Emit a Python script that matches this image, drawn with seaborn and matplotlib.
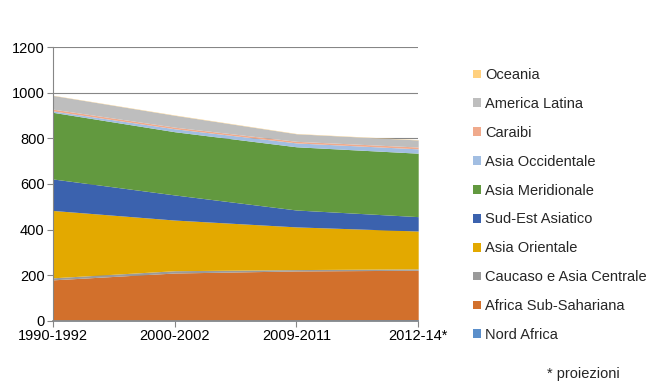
import matplotlib
matplotlib.use("Agg")
import pandas as pd
import matplotlib.pyplot as plt
import seaborn as sns
from matplotlib.patches import Patch

periods = ["1990-1992", "2000-2002", "2009-2011", "2012-14*"]
regions = ["Nord Africa", "Africa Sub-Sahariana", "Caucaso e Asia Centrale",
           "Asia Orientale", "Sud-Est Asiatico", "Asia Meridionale",
           "Asia Occidentale", "Caraibi", "America Latina", "Oceania"]

nord_africa = [4, 4, 5, 6]
africa_sub = [176, 206, 214, 216]
caucaso = [9, 10, 6, 6]
asia_orientale = [295, 222, 187, 166]
sud_est = [138, 110, 74, 63]
asia_meridionale = [292, 277, 277, 278]
asia_occidentale = [6, 13, 17, 19]
caraibi = [8, 7, 7, 8]
america_latina = [60, 52, 33, 31]
oceania = [1, 1.5, 1.3, 1.3]

colors = ["#5B8FCB", "#D2702C", "#9A9A9A", "#E3A900", "#3B62AE",
          "#62993F", "#A2BEE2", "#F0AA8C", "#BEBEBE", "#FFD07E"]

df = pd.DataFrame({
    "Nord Africa": nord_africa,
    "Africa Sub-Sahariana": africa_sub,
    "Caucaso e Asia Centrale": caucaso,
    "Asia Orientale": asia_orientale,
    "Sud-Est Asiatico": sud_est,
    "Asia Meridionale": asia_meridionale,
    "Asia Occidentale": asia_occidentale,
    "Caraibi": caraibi,
    "America Latina": america_latina,
    "Oceania": oceania,
}, index=periods)

sns.set_theme(style="white")
plt.rcParams['font.family'] = ['Liberation Sans', 'DejaVu Sans']

fig = plt.figure(figsize=(6.51, 3.89), dpi=100)
ax = fig.add_axes([0.0814, 0.175, 0.561, 0.704])

x = list(range(len(periods)))
ax.stackplot(x, [df[r].values for r in regions], colors=colors, linewidth=0)

ax.set_xlim(0, len(periods) - 1)
ax.set_ylim(0, 1200)
ax.set_yticks(range(0, 1201, 200))
ax.set_xticks(x)
ax.set_xticklabels(periods)
ax.tick_params(axis="both", labelsize=10.5, colors="#000000", length=4,
               color="#868686", width=0.8, direction="out", pad=2)
ax.tick_params(axis="x", bottom=True)
ax.tick_params(axis="y", left=True)
ax.yaxis.grid(True, color="#868686", linewidth=0.8)
ax.set_axisbelow(True)
for side in ["top", "right"]:
    ax.spines[side].set_visible(False)
ax.spines["left"].set_color("#868686")
ax.spines["bottom"].set_color("#868686")
ax.spines["left"].set_linewidth(0.8)
ax.spines["bottom"].set_linewidth(1.2)

handles = [Patch(facecolor=c, edgecolor="none") for c in colors]
leg = fig.legend(handles[::-1], regions[::-1], loc="upper left",
                 bbox_to_anchor=(0.717, 0.840), frameon=False, fontsize=10.5,
                 handlelength=0.55, handleheight=0.55, handletextpad=0.3,
                 labelspacing=1.02, borderaxespad=0)

fig.text(547 / 651, 11 / 389, "* proiezioni", fontsize=10.5,
         ha="left", va="baseline")

plt.savefig("out.png", dpi=100)
